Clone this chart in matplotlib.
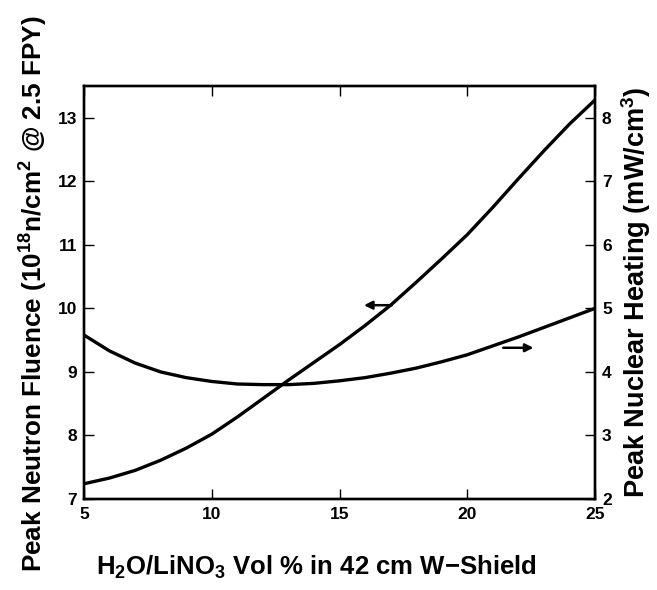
import matplotlib
matplotlib.use("Agg")
import matplotlib.pyplot as plt

# H2O/LiNO3 volume fraction (%)
vol_pct = [5, 6, 7, 8, 9, 10, 11, 12, 13, 14, 15, 16, 17, 18, 19, 20, 21, 22, 23, 24, 25]
# peak neutron fluence, 1e18 n/cm^2 @ 2.5 FPY (left axis)
fluence = [7.24, 7.33, 7.45, 7.61, 7.80, 8.02, 8.29, 8.58, 8.87, 9.15, 9.43,
           9.73, 10.05, 10.41, 10.78, 11.16, 11.59, 12.04, 12.48, 12.90, 13.28]
# peak nuclear heating, mW/cm^3 (right axis)
heating = [4.58, 4.33, 4.14, 4.00, 3.91, 3.85, 3.81, 3.80, 3.80, 3.82, 3.86,
           3.91, 3.98, 4.06, 4.16, 4.27, 4.41, 4.55, 4.70, 4.85, 5.00]

x_ticks = [5, 10, 15, 20, 25]
left_ticks = [7, 8, 9, 10, 11, 12, 13]
right_ticks = [2, 3, 4, 5, 6, 7, 8]

plt.rcParams["font.family"] = ["Liberation Sans", "DejaVu Sans"]
plt.rcParams["mathtext.fontset"] = "custom"
plt.rcParams["mathtext.rm"] = "Liberation Sans:bold"
plt.rcParams["mathtext.it"] = "Liberation Sans:bold"
plt.rcParams["mathtext.bf"] = "Liberation Sans:bold"
plt.rcParams["mathtext.default"] = "rm"

fig = plt.figure(figsize=(6.57, 5.90), dpi=100)
ax = fig.add_axes([84 / 657, 1 - 499 / 590, (595 - 84) / 657, (499 - 86) / 590])
ax2 = ax.twinx()

ax.plot(vol_pct, fluence, color="black", lw=2.4, solid_capstyle="round", solid_joinstyle="round")
ax2.plot(vol_pct, heating, color="black", lw=2.4, solid_capstyle="round", solid_joinstyle="round")

ax.set_xlim(5, 25)
ax.set_ylim(7, 13.5)
ax2.set_ylim(2, 8.5)
ax.set_xticks(x_ticks)
ax.set_yticks(left_ticks)
ax2.set_yticks(right_ticks)

for a in (ax, ax2):
    for s in a.spines.values():
        s.set_linewidth(1.7)
ax.tick_params(axis="both", direction="in", length=7, width=1.0, labelsize=12.5, pad=5)
ax.tick_params(axis="x", top=True, pad=6)
ax2.tick_params(axis="y", direction="in", length=7, width=1.0, labelsize=12.5, pad=5)
for lab in ax.get_xticklabels() + ax.get_yticklabels() + ax2.get_yticklabels():
    lab.set_fontweight("bold")

# direction arrows pointing to each curve's axis
ax.annotate("", xy=(15.85, 10.05), xytext=(17.15, 10.05),
            arrowprops=dict(arrowstyle="-|>", color="black", lw=1.8, mutation_scale=12))
ax2.annotate("", xy=(22.7, 4.38), xytext=(21.3, 4.38),
             arrowprops=dict(arrowstyle="-|>", color="black", lw=1.8, mutation_scale=12))

fig.text(316 / 657, 1 - 567 / 590, r"H$_2$O/LiNO$_3$ Vol % in 42 cm W$-$Shield",
         ha="center", va="center", fontsize=18.5, fontweight="bold")
fig.text(34 / 657, 1 - 294 / 590, r"Peak Neutron Fluence (10$^{18}$n/cm$^2$ @ 2.5 FPY)",
         ha="center", va="center", rotation=90, fontsize=18.8, fontweight="bold")
fig.text(636 / 657, 1 - 292 / 590, r"Peak Nuclear Heating (mW/cm$^3$)",
         ha="center", va="center", rotation=90, fontsize=19.5, fontweight="bold")

fig.savefig("out.png", dpi=100)
